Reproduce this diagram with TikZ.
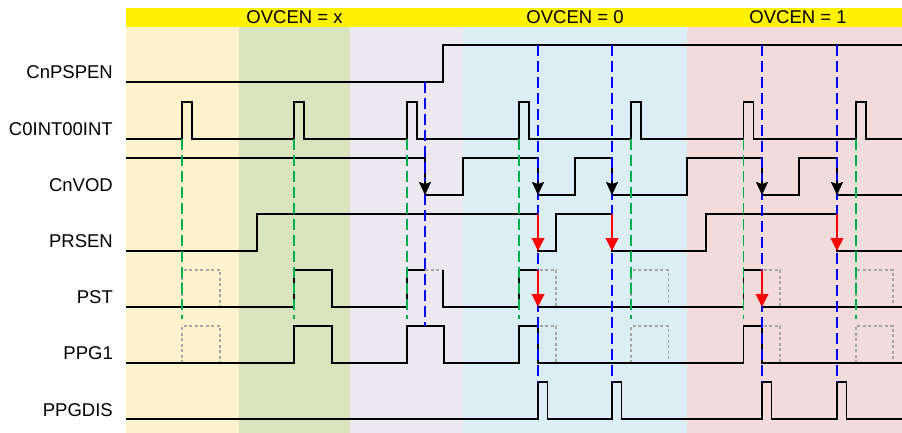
\documentclass[tikz,border=0pt]{standalone}
\usepackage{fontspec}
\setmainfont{Liberation Sans}
\usetikzlibrary{arrows.meta, positioning}
\definecolor{bandA}{HTML}{FFF2CC}
\definecolor{bandB}{HTML}{D8E4BD}
\definecolor{bandC}{HTML}{ECE9F1}
\definecolor{bandD}{HTML}{DAEEF3}
\definecolor{bandE}{HTML}{F2DCDB}
\definecolor{grn}{HTML}{00B050}
\definecolor{ghostgray}{HTML}{A6A6A6}

\begin{document}
\begin{tikzpicture}[x=1pt, y=-1pt,
    sig/.style={line width=1.9pt, black},
    ghost/.style={line width=1.5pt, ghostgray, dash pattern=on 3pt off 2.5pt},
    greenln/.style={line width=1.8pt, grn, dash pattern=on 11pt off 5pt},
    blueln/.style={line width=1.8pt, blue, dash pattern=on 11pt off 5pt},
    blkarrow/.style={line width=1.9pt, black, -{Stealth[width=12pt, length=13pt, inset=2pt]}},
    redarrow/.style={line width=1.9pt, red, -{Triangle[width=12.5pt, length=13pt]}},
    lbl/.style={anchor=east, inner sep=0pt, font=\fontsize{18.5}{21}\selectfont},
    bartext/.style={inner sep=0pt, font=\fontsize{18.5}{21}\selectfont}]
  \useasboundingbox (0,0) rectangle (902,433);

  % Background bands
  \fill[bandA] (126,27) rectangle (239,433);
  \fill[bandB] (239,27) rectangle (350,433);
  \fill[bandC] (350,27) rectangle (463,433);
  \fill[bandD] (463,27) rectangle (687,433);
  \fill[bandE] (687,27) rectangle (902,433);

  % Mode bar
  \fill[yellow] (126,8) rectangle (902,27);
  \node[bartext] (modex) at (294.5,17.5) {OVCEN = x};
  \node[bartext] (mode0) at (575,17.5) {OVCEN = 0};
  \node[bartext] (mode1) at (798,17.5) {OVCEN = 1};

  % Signal names
  \node[lbl] (cnpspen) at (113,72.5) {CnPSPEN};
  \node[lbl] (cint) at (113,128.7) {C0INT00INT};
  \node[lbl] (cnvod) at (113,185) {CnVOD};
  \node[lbl] (prsen) at (113,241.3) {PRSEN};
  \node[lbl] (pst) at (113,297.5) {PST};
  \node[lbl] (ppg) at (113,353.6) {PPG1};
  \node[lbl] (ppgdis) at (113,409.8) {PPGDIS};

  % Ghost pulses
  \foreach \a/\b in {182/220, 538/556, 631.2/668.5, 762/780, 855.8/893} {
    \draw[ghost] (\a,307) -- (\a,270) -- (\b,270) -- (\b,307);
    \draw[ghost] (\a,363) -- (\a,326) -- (\b,326) -- (\b,363);
  }

  % CnPSPEN
  \draw[sig] (126,82) -- (443,82) -- (443,45) -- (902,45);

  % C0INT00INT
  \draw[sig] (126,139) foreach \t in {182,294.3,406.6,518.9,631.2,743.5,855.8} {
      -- (\t,139) -- (\t,102) -- (\t+10,102) -- (\t+10,139)} -- (902,139);

  % CnVOD
  \draw[sig] (126,158) -- (425,158) -- (425,195) -- (463,195) -- (463,158)
    -- (538,158) -- (538,195) -- (575,195) -- (575,158) -- (612,158)
    -- (612,195) -- (687,195) -- (687,158) -- (762,158) -- (762,195)
    -- (799,195) -- (799,158) -- (837,158) -- (837,195) -- (902,195);

  % PRSEN
  \draw[sig] (126,251) -- (257,251) -- (257,214) -- (538,214) -- (538,251)
    -- (556,251) -- (556,214) -- (612,214) -- (612,251) -- (706,251)
    -- (706,214) -- (837,214) -- (837,251) -- (902,251);

  % PST
  \draw[sig] (126,307) -- (294.3,307) -- (294.3,270) -- (332,270) -- (332,307)
    -- (406.6,307) -- (406.6,270) -- (425,270);
  \draw[ghost] (425,270) -- (443,270);
  \draw[sig] (443,270) -- (443,307) -- (518.9,307) -- (518.9,270) -- (538,270)
    -- (538,307) -- (743.5,307) -- (743.5,270) -- (762,270) -- (762,307)
    -- (902,307);

  % PPG1
  \draw[sig] (126,363) -- (294.3,363) -- (294.3,326) -- (332,326) -- (332,363)
    -- (406.6,363) -- (406.6,326) -- (444,326) -- (444,363) -- (518.9,363)
    -- (518.9,326) -- (538,326) -- (538,363) -- (743.5,363) -- (743.5,326)
    -- (762,326) -- (762,363) -- (902,363);

  % PPGDIS
  \draw[sig] (126,419) foreach \t in {538,612,762,837} {
      -- (\t,419) -- (\t,382) -- (\t+9.5,382) -- (\t+9.5,419)} -- (902,419);

  % Interrupt markers
  \foreach \t in {182,294.3,406.6,518.9,631.2,743.5,855.8}
    \draw[greenln] (\t,139) -- (\t,319);

  % Detection markers
  \draw[blueln] (425,82) -- (425,326);
  \foreach \t in {538,612,762,837}
    \draw[blueln] (\t,45) -- (\t,382);

  % Falling edges
  \foreach \t in {425,538,612,762,837}
    \draw[blkarrow] (\t,181) -- (\t,195);
  \foreach \t in {538,612,837}
    \draw[redarrow] (\t,214) -- (\t,251);
  \foreach \t in {538,762}
    \draw[redarrow] (\t,270) -- (\t,307);
\end{tikzpicture}
\end{document}
